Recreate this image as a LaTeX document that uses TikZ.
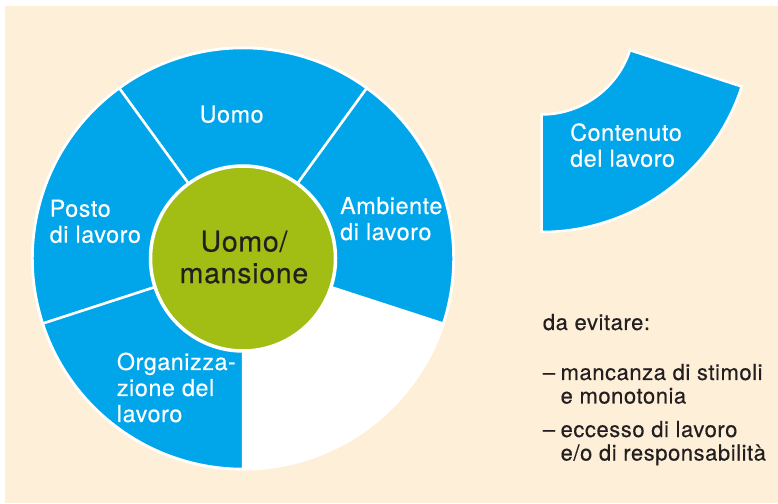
\documentclass[tikz,border=0pt]{standalone}
\usepackage{fontspec}
\setmainfont{TeX Gyre Heros}[LetterSpace=2.5, FakeBold=0.3]
\usetikzlibrary{calc}
\definecolor{cream}{RGB}{254,240,216}
\definecolor{skyblue}{RGB}{0,166,233}
\definecolor{limegreen}{RGB}{162,190,20}
\definecolor{darktext}{RGB}{35,31,32}
\newcommand\lbllines[1]{\begin{tabular}[t]{@{}l@{}}#1\end{tabular}}
\newcommand\ctrlines[1]{\begin{tabular}[t]{@{}c@{}}#1\end{tabular}}
\newcommand\itemlines[1]{\begin{tabular}[t]{@{}l@{\hspace{5.5pt}}l@{}}#1\end{tabular}}
\tikzset{
  sector/.style={fill=skyblue, draw=white, line width=2.5pt, line join=miter},
  whitelabel/.style={anchor=base west, inner sep=0pt, text=white,
    font=\fontsize{23.3}{26}\selectfont},
  darklabel/.style={anchor=base west, inner sep=0pt, text=darktext,
    font=\fontsize{22}{23.5}\selectfont},
}
\begin{document}
\begin{tikzpicture}[x=1pt,y=1pt]
\useasboundingbox (0,0) rectangle (778,503);
\fill[white] (0,0) rectangle (778,503);
\fill[cream] (5,0) rectangle (778,497);
\coordinate (C) at (243,244.5);
\coordinate (C2) at (541.5,481.5);
\fill[white] (C) circle (212);
% sectors of the wheel
\foreach \a/\b/\nm in {54/126/uomo, 126/198/posto, 198/270/org, -18/54/amb}{
  \path[sector] ([shift={(\a:93)}]C) -- ([shift={(\a:210.5)}]C)
    arc[start angle=\a, end angle=\b, radius=210.5]
    -- ([shift={(\b:93)}]C)
    arc[start angle=\b, end angle=\a, radius=93] -- cycle;
}
% detached sector
\path[sector] ([shift={(-90:93)}]C2) -- ([shift={(-90:210.5)}]C2)
    arc[start angle=-90, end angle=-18, radius=210.5]
    -- ([shift={(-18:93)}]C2)
    arc[start angle=-18, end angle=-90, radius=93] -- cycle;
% centre
\node[circle, fill=limegreen, draw=white, line width=2.5pt, minimum size=184pt, inner sep=0pt] (core) at (C) {};
\node[anchor=base, inner sep=0pt, text=darktext, font=\fontsize{28.5}{31.7}\selectfont] (coretext) at (244,251.5) {\ctrlines{Uomo/\\mansione}};
% labels
\node[whitelabel] (luomo) at (199.5,380.5) {Uomo};
\node[whitelabel] (lposto) at (49.5,286.3) {\lbllines{Posto\\di lavoro}};
\node[whitelabel] (lamb) at (340,289) {\lbllines{Ambiente\\di lavoro}};
\node[whitelabel] (lorg) at (116.7,133) {\lbllines{Organizza-\\zione del\\lavoro}};
\node[whitelabel] (lcont) at (570,362.3) {\lbllines{Contenuto\\del lavoro}};
% text on the right
\node[darklabel] (evit) at (542.7,173) {da evitare:};
\node[darklabel] (item1) at (542.7,123) {\itemlines{--&mancanza di stimoli\\&e monotonia}};
\node[darklabel] (item2) at (542.7,66) {\itemlines{--&eccesso di lavoro\\&e/o di responsabilità}};
\end{tikzpicture}
\end{document}
